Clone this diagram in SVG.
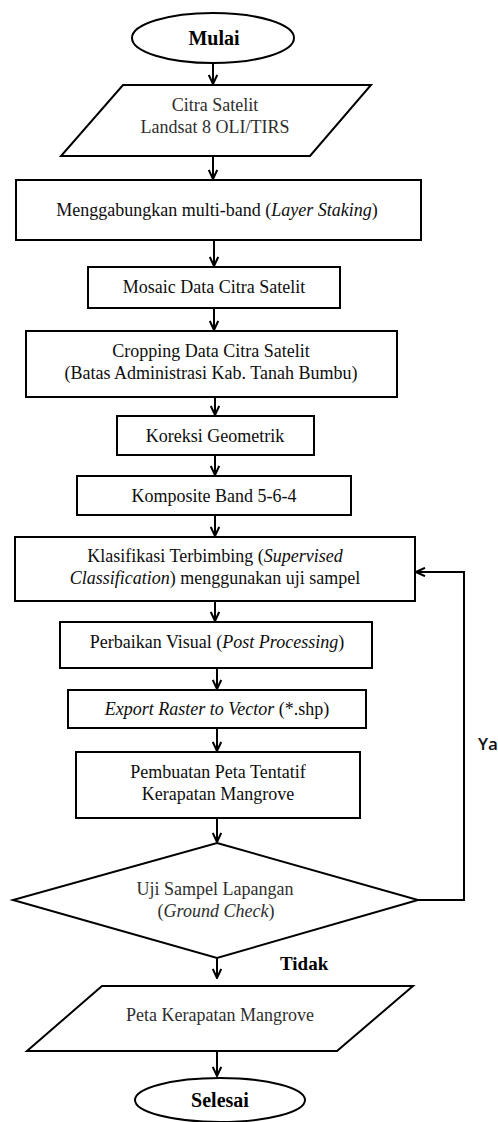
<svg xmlns="http://www.w3.org/2000/svg" width="498" height="1122" viewBox="0 0 498 1122">
<style>
.s{fill:#fff;stroke:#000;stroke-width:2}
.t{font-family:"Liberation Serif","Times New Roman",serif;font-size:18px;fill:#0d0d0d;text-anchor:middle}
.g{fill:#2e2e2e}
.b{font-weight:bold;font-size:20px;fill:#000}
.c{fill:none;stroke:#000;stroke-width:2}
</style>
<defs>
<marker id="arr" viewBox="0 0 12 10" refX="11" refY="5" markerWidth="12" markerHeight="10" markerUnits="userSpaceOnUse" orient="auto">
<path d="M2,0.8 L11,5 L2,9.2" fill="none" stroke="#000" stroke-width="2"/>
</marker>
</defs>
<rect width="498" height="1122" fill="#fff"/>
<g id="connectors">
<line class="c" x1="213" y1="63" x2="213" y2="84" marker-end="url(#arr)"/>
<line class="c" x1="213" y1="156" x2="213" y2="179" marker-end="url(#arr)"/>
<line class="c" x1="214" y1="240" x2="214" y2="266" marker-end="url(#arr)"/>
<line class="c" x1="214" y1="308" x2="214" y2="330" marker-end="url(#arr)"/>
<line class="c" x1="215" y1="397" x2="215" y2="415" marker-end="url(#arr)"/>
<line class="c" x1="215" y1="455" x2="215" y2="475" marker-end="url(#arr)"/>
<line class="c" x1="215" y1="515" x2="215" y2="536" marker-end="url(#arr)"/>
<line class="c" x1="215" y1="601" x2="215" y2="621" marker-end="url(#arr)"/>
<line class="c" x1="217" y1="668" x2="217" y2="689" marker-end="url(#arr)"/>
<line class="c" x1="217" y1="728" x2="217" y2="751" marker-end="url(#arr)"/>
<line class="c" x1="217" y1="818" x2="217" y2="842" marker-end="url(#arr)"/>
<line class="c" x1="217" y1="958" x2="217" y2="978" marker-end="url(#arr)"/>
<line class="c" x1="217" y1="1051" x2="217" y2="1076" marker-end="url(#arr)"/>
<polyline class="c" points="418,900 464,900 464,572 416,572" marker-end="url(#arr)"/>
<text x="478" y="750" style="font-family:'Open Sans','Liberation Sans',sans-serif;font-size:17px;font-weight:600;fill:#111">Ya</text>
<text x="280" y="970" class="t b" style="text-anchor:start;font-size:19px">Tidak</text>
</g>
<g id="mulai">
<ellipse class="s" cx="213" cy="38" rx="81" ry="25"/>
<text class="t b" x="214" y="45">Mulai</text>
</g>
<g id="citra">
<polygon class="s" points="123,85 371,85 310,156 61,156"/>
<text class="t g" x="215" y="111">Citra Satelit</text>
<text class="t g" x="215" y="133">Landsat 8 OLI/TIRS</text>
</g>
<g id="layer">
<rect class="s" x="16" y="180" width="405" height="60"/>
<text class="t" x="217" y="216">Menggabungkan multi-band (<tspan font-style="italic">Layer Staking</tspan>)</text>
</g>
<g id="mosaic">
<rect class="s" x="88" y="267" width="252" height="41"/>
<text class="t" x="214" y="293">Mosaic  Data Citra Satelit</text>
</g>
<g id="cropping">
<rect class="s" x="26" y="331" width="371" height="66"/>
<text class="t" x="211" y="357">Cropping  Data Citra Satelit</text>
<text class="t" x="211" y="379">(Batas Administrasi Kab. Tanah Bumbu)</text>
</g>
<g id="koreksi">
<rect class="s" x="117" y="416" width="197" height="39"/>
<text class="t" x="215" y="442">Koreksi Geometrik</text>
</g>
<g id="komposite">
<rect class="s" x="77" y="476" width="274" height="39"/>
<text class="t" x="214" y="502">Komposite Band 5-6-4</text>
</g>
<g id="klasifikasi">
<rect class="s" x="15" y="537" width="400" height="64"/>
<text class="t" x="215" y="562">Klasifikasi Terbimbing (<tspan font-style="italic">Supervised</tspan></text>
<text class="t" x="215" y="584"><tspan font-style="italic">Classification</tspan>) menggunakan uji sampel</text>
</g>
<g id="perbaikan">
<rect class="s" x="60" y="622" width="312" height="46"/>
<text class="t" x="217" y="648">Perbaikan Visual (<tspan font-style="italic">Post Processing</tspan>)</text>
</g>
<g id="export">
<rect class="s" x="68" y="690" width="298" height="38"/>
<text class="t" x="217" y="715"><tspan font-style="italic">Export Raster to Vector</tspan> (*.shp)</text>
</g>
<g id="pembuatan">
<rect class="s" x="76" y="752" width="284" height="66"/>
<text class="t" x="218" y="778">Pembuatan Peta Tentatif</text>
<text class="t" x="218" y="800">Kerapatan Mangrove</text>
</g>
<g id="uji">
<polygon class="s" points="217,843 418,900 217,958 13,900"/>
<text class="t g" x="215" y="895">Uji Sampel Lapangan</text>
<text class="t g" x="216" y="917">(<tspan font-style="italic">Ground Check</tspan>)</text>
</g>
<g id="peta">
<polygon class="s" points="102,986 413,986 337,1051 27,1051"/>
<text class="t g" x="220" y="1021">Peta Kerapatan Mangrove</text>
</g>
<g id="selesai">
<ellipse class="s" cx="220" cy="1100" rx="85" ry="22"/>
<text class="t b" x="220" y="1107">Selesai</text>
</g>
</svg>
